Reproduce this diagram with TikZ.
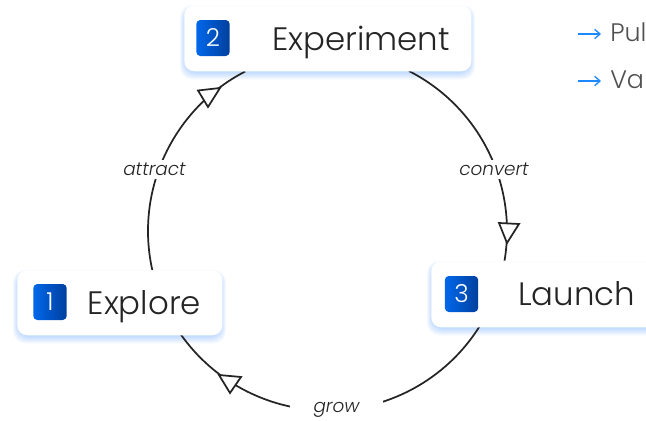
\documentclass[tikz,border=0pt]{standalone}
\usepackage{fontspec}
\setmainfont{Poppins Light}[ItalicFont={Poppins Light Italic}]
\usetikzlibrary{calc,arrows.meta}
\definecolor{ink}{HTML}{242424}
\definecolor{flowblue}{HTML}{1E88FF}
\definecolor{glow}{HTML}{3D8BFF}
\definecolor{badgeL}{HTML}{0068EA}
\definecolor{badgeR}{HTML}{003F9E}
\tikzset{
  x=0.75pt,y=-0.75pt,
  cardbox/.style={draw=none,fill=white,rounded corners=7.5pt,inner sep=0pt,anchor=north west},
  badgebox/.style={rounded corners=3pt,left color=badgeL,right color=badgeR,draw=none,inner sep=0pt,minimum width=25pt,minimum height=27pt,text=white,font=\fontsize{18.5}{20}\selectfont,anchor=center},
  cardtext/.style={text=ink,inner sep=0pt,anchor=base west,font=\fontsize{24.3}{28}\selectfont},
  edgelabel/.style={fill=white,inner sep=2pt,text=ink,font=\fontsize{13.8}{16}\selectfont\itshape,anchor=center},
  flowline/.style={draw=ink,line width=1.3pt},
  opentip/.style={draw=ink,fill=white,line width=1.3pt,line join=miter},
  sidetext/.style={text=ink!80,inner sep=0pt,anchor=base west,font=\fontsize{19}{22}\selectfont},
  sidearrow/.style={draw=flowblue,line width=1pt,-{Straight Barb[length=4pt,width=7pt]}},
}
\newcommand{\glowrect}[4]{%
  \foreach \g in {10,9,...,1}{
    \fill[glow,opacity=.04,rounded corners=9pt]
      (#1-\g*.6+2,#2-\g*.4+4) rectangle (#3+\g*.6-2,#4+\g*.85);
  }%
}
\begin{document}
\begin{tikzpicture}
\useasboundingbox (0,0) rectangle (646,421);
\clip (0,0) rectangle (646,421);
\coordinate (hub) at (327.5,231);
% glows under the cards
\glowrect{184}{5}{471}{71}
\glowrect{17}{270}{222}{335}
\glowrect{431}{261}{700}{327}
% points where the arcs meet the cards
\coordinate (s1) at ($(hub)+(167.5:179.5)$);
\coordinate (s2) at ($(hub)+(297:179.5)$);
\coordinate (s3) at ($(hub)+(31.9:179.5)$);
% arcs
\draw[flowline] (s1) arc[start angle=167.5,end angle=242.7,radius=179.5];
\draw[flowline] (s2) arc[start angle=297,end angle=369.5,radius=179.5];
\draw[flowline] (s3) arc[start angle=31.9,end angle=144.8,radius=179.5];
% cards
\node[cardbox,minimum width=215.25pt,minimum height=49.5pt] (experiment) at (184,5) {};
\node[cardbox,minimum width=153.75pt,minimum height=48.75pt] (explore) at (17,270) {};
\node[cardbox,minimum width=202pt,minimum height=49.5pt] (launch) at (431,261) {};
% badges
\node[badgebox] (b2) at (213,38) {2};
\node[badgebox] (b1) at (50,302) {1};
\node[badgebox] (b3) at (461.5,294) {3};
% titles
\node[cardtext] (t2) at (272,50) {Experiment};
\node[cardtext] (t1) at (87.5,314) {Explore};
\node[cardtext] (t3) at (518,305) {Launch};
% labels on arcs
\node[edgelabel] (attract) at (154.5,169.5) {attract};
\node[edgelabel] (convert) at (494,169.5) {convert};
\node[edgelabel,inner xsep=17.5pt] (grow) at (336.5,409.5) {grow};
% open triangles
\draw[opentip] (198,90.5) -- (220,88) -- (208,107) -- cycle;
\draw[opentip] (499,223) -- (519,224) -- (507,243) -- cycle;
\draw[opentip] (219,375) -- (241,377) -- (230,393) -- cycle;
% side list
\coordinate (a1) at (578,34);
\coordinate (a1e) at (601,34);
\coordinate (a2) at (578,81);
\coordinate (a2e) at (601,81);
\draw[sidearrow] (a1) -- (a1e);
\draw[sidearrow] (a2) -- (a2e);
\node[sidetext] (pul) at (610,41) {Pul};
\node[sidetext] (va) at (610,88) {Va};
\end{tikzpicture}
\end{document}
